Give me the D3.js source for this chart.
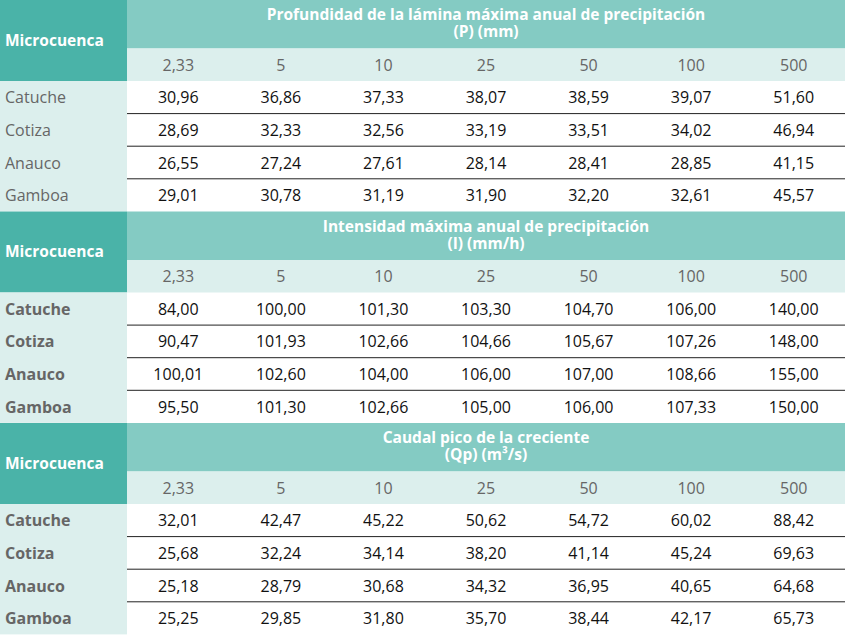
<!DOCTYPE html>
<html><head><meta charset="utf-8">
<script src="https://cdn.jsdelivr.net/npm/d3@7"></script>
<style>body{margin:0;background:#fff}</style>
</head><body>
<script>
var periods = ["2,33", "5", "10", "25", "50", "100", "500"];
var basins = ["Catuche", "Cotiza", "Anauco", "Gamboa"];
var titles = [
  ["Profundidad de la lámina máxima anual de precipitación", "(P) (mm)"],
  ["Intensidad máxima anual de precipitación", "(I) (mm/h)"],
  ["Caudal pico de la creciente", "(Qp) (m³/s)"]
];
var depthP = [
  ["30,96","36,86","37,33","38,07","38,59","39,07","51,60"],
  ["28,69","32,33","32,56","33,19","33,51","34,02","46,94"],
  ["26,55","27,24","27,61","28,14","28,41","28,85","41,15"],
  ["29,01","30,78","31,19","31,90","32,20","32,61","45,57"]
];
var intensityI = [
  ["84,00","100,00","101,30","103,30","104,70","106,00","140,00"],
  ["90,47","101,93","102,66","104,66","105,67","107,26","148,00"],
  ["100,01","102,60","104,00","106,00","107,00","108,66","155,00"],
  ["95,50","101,30","102,66","105,00","106,00","107,33","150,00"]
];
var flowQp = [
  ["32,01","42,47","45,22","50,62","54,72","60,02","88,42"],
  ["25,68","32,24","34,14","38,20","41,14","45,24","69,63"],
  ["25,18","28,79","30,68","34,32","36,95","40,65","64,68"],
  ["25,25","29,85","31,80","35,70","38,44","42,17","65,73"]
];
var tables = [depthP, intensityI, flowQp];

var W = 845, H = 636, firstW = 127, secH = 211.5, headH = 48.5, subH = 32.5, rowH = 32.6;
var font = "'Open Sans', sans-serif";
var svg = d3.select("body").append("svg").attr("width", W).attr("height", H);
var x = d3.scaleBand().domain(periods).range([firstW, W]);
var y = d3.scaleBand().domain(basins).range([headH + subH, headH + subH + rowH * 4]);

tables.forEach(function(data, s){
  var g = svg.append("g").attr("transform", "translate(0," + (s * secH) + ")");
  g.append("rect").attr("x", 0).attr("y", 0).attr("width", firstW).attr("height", headH + subH).attr("fill", "#4ab3a8");
  g.append("rect").attr("x", firstW).attr("y", 0).attr("width", W - firstW).attr("height", headH).attr("fill", "#84cbc3");
  g.append("rect").attr("x", firstW).attr("y", headH).attr("width", W - firstW).attr("height", subH).attr("fill", "#dcefed");
  g.append("rect").attr("x", 0).attr("y", headH + subH).attr("width", firstW).attr("height", rowH * 4).attr("fill", "#dcefed");
  g.append("text").attr("x", 5).attr("y", (headH + subH) / 2 + 5).text("Microcuenca")
    .attr("fill", "#fff").attr("font-family", font).attr("font-weight", "bold").attr("font-size", 15.5);
  titles[s].forEach(function(t, i){
    g.append("text").attr("x", (firstW + W) / 2).attr("y", 20 + i * 17).text(t)
      .attr("text-anchor", "middle").attr("fill", "#fff").attr("font-family", font)
      .attr("font-weight", "bold").attr("font-size", 15.5);
  });
  g.selectAll(".per").data(periods).enter().append("text")
    .attr("x", function(d){ return x(d) + x.bandwidth() / 2; })
    .attr("y", headH + subH / 2 + 6).text(function(d){ return d; })
    .attr("text-anchor", "middle").attr("fill", "#666").attr("font-family", font).attr("font-size", 16);
  basins.forEach(function(b, r){
    var yc = y(b) + y.bandwidth() / 2 + 6;
    g.append("text").attr("x", 5).attr("y", yc).text(b)
      .attr("fill", "#666").attr("font-family", font).attr("font-size", 16)
      .attr("font-weight", s === 0 ? "normal" : "bold");
    g.selectAll(".v" + r).data(data[r]).enter().append("text")
      .attr("x", function(d, i){ return x(periods[i]) + x.bandwidth() / 2; })
      .attr("y", yc).text(function(d){ return d; })
      .attr("text-anchor", "middle").attr("fill", "#111").attr("font-family", font).attr("font-size", 16);
    if (r < 3) {
      g.append("line").attr("x1", firstW).attr("x2", W)
        .attr("y1", y(b) + rowH).attr("y2", y(b) + rowH).attr("stroke", "#222").attr("stroke-width", 1);
    }
  });
});
</script>
</body></html>
